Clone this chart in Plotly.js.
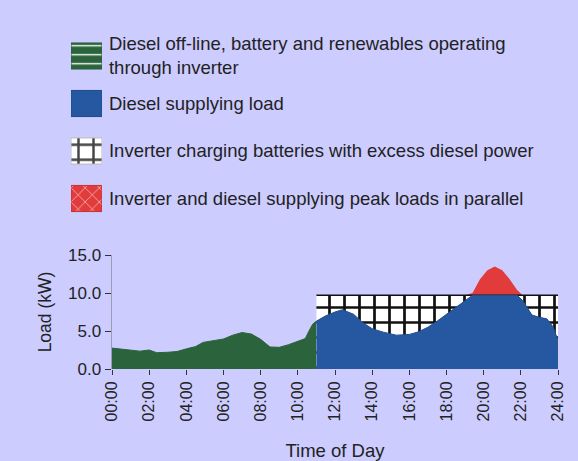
<!DOCTYPE html>
<html>
<head>
<meta charset="utf-8">
<script src="https://cdn.plot.ly/plotly-3.0.1.min.js"></script>
<style>html,body{margin:0;padding:0;background:#ccccff;}#chart{width:578px;height:461px;}</style>
</head>
<body>
<div id="chart"></div>
<script>
// ---- data ----
const hours = [0,0.5,1.0,1.5,2.0,2.4,3.0,3.5,4.0,4.5,4.9,5.5,6.0,6.5,7.0,7.5,8.0,8.5,9.0,9.5,10.0,10.4,10.6,10.8,11.0,
  11.5,12.0,12.4,13.0,13.5,14.0,14.6,15.3,16.0,16.5,17.0,17.5,18.0,18.5,19.0,19.4,19.8,20.2,20.6,21.0,21.4,21.8,22.1,22.6,23.0,23.4,23.75,24.0];
const loadKW = [2.75,2.6,2.45,2.35,2.5,2.15,2.2,2.3,2.65,2.95,3.5,3.8,3.95,4.45,4.8,4.6,3.9,2.9,2.85,3.2,3.7,4.0,5.0,5.9,6.3,
  7.0,7.5,7.8,7.2,6.1,5.3,4.85,4.45,4.55,4.9,5.5,6.3,7.2,8.1,9.0,10.0,11.8,13.0,13.5,13.0,11.8,10.4,9.0,7.1,6.8,6.6,5.5,3.7];
const dieselStartHour = 11;
const inverterRatingKW = 9.7;
const xTickVals = [0,2,4,6,8,10,12,14,16,18,20,22,24];
const xTickText = ['00:00','02:00','04:00','06:00','08:00','10:00','12:00','14:00','16:00','18:00','20:00','22:00','24:00'];
const yTickVals = [0,5,10,15];
const legendLabels = [
  'Diesel off-line, battery and renewables operating<br>through inverter',
  'Diesel supplying load',
  'Inverter charging batteries with excess diesel power',
  'Inverter and diesel supplying peak loads in parallel'
];

// ---- derived segments ----
const offH = [], offL = [], onH = [], onL = [];
hours.forEach((h, i) => {
  if (h <= dieselStartHour) { offH.push(h); offL.push(loadKW[i]); }
  if (h >= dieselStartHour) { onH.push(h); onL.push(loadKW[i]); }
});
const capH = [onH[0], onH[onH.length - 1]];
const capL = capH.map(() => inverterRatingKW);

const GREEN = '#2b643c', BLUE = '#2558a0', RED = '#e23b3b';
const FONT = 'Liberation Sans, Arial, sans-serif';

const traces = [
  { x: offH, y: offL, type: 'scatter', mode: 'lines', fill: 'tozeroy',
    fillcolor: GREEN, line: { color: GREEN, width: 1 }, hoverinfo: 'skip', showlegend: false },
  { x: capH, y: capL, type: 'scatter', mode: 'lines', fill: 'tozeroy',
    fillcolor: '#ffffff', line: { color: '#111', width: 1.5 },
    fillpattern: { shape: '+', fgcolor: '#111111', bgcolor: '#ffffff', size: 15, solidity: 0.33 },
    hoverinfo: 'skip', showlegend: false },
  { x: onH, y: onL.map(v => Math.max(v, inverterRatingKW)), type: 'scatter', mode: 'lines', fill: 'tonexty',
    fillcolor: RED, line: { color: RED, width: 0 }, hoverinfo: 'skip', showlegend: false },
  { x: onH, y: onL.map(v => Math.min(v, inverterRatingKW)), type: 'scatter', mode: 'lines', fill: 'tozeroy',
    fillcolor: BLUE, line: { color: '#22508f', width: 1 }, hoverinfo: 'skip', showlegend: false },
  // legend swatches
  { type: 'bar', orientation: 'h', x: legendLabels.map(() => 1), y: legendLabels,
    xaxis: 'x2', yaxis: 'y2', width: 0.55, hoverinfo: 'skip', showlegend: false,
    marker: {
      color: [GREEN, BLUE, '#ffffff', RED],
      line: { color: ['#2b643c', '#1e4a88', '#bbbbbb', '#c83030'], width: 1 },
      pattern: {
        fillmode: 'overlay',
        shape: ['-', '', '+', 'x'],
        fgcolor: ['#dfe8d8', BLUE, '#111111', '#ffffff'],
        fgopacity: 1,
        size: [9, 8, 15, 10],
        solidity: [0.15, 0.2, 0.3, 0.1]
      }
    } }
];

const layout = {
  width: 578, height: 461,
  margin: { l: 70, r: 20, t: 30, b: 92 },
  paper_bgcolor: '#ccccff', plot_bgcolor: '#ccccff',
  font: { family: FONT, size: 16, color: '#222' },
  showlegend: false,
  xaxis: {
    domain: [0.08607, 1], range: [0, 24], tickvals: xTickVals, ticktext: xTickText,
    tickangle: -90, ticks: 'outside', ticklen: 5, tickcolor: '#333',
    showgrid: false, zeroline: false, showline: false,
    tickfont: { size: 16, family: FONT },
    title: { text: 'Time of Day', font: { size: 18.5, family: FONT }, standoff: 24 }
  },
  yaxis: {
    domain: [0, 0.33628], range: [0, 15], tickvals: yTickVals, tickformat: '.1f',
    ticks: 'outside', ticklen: 6, tickcolor: '#333',
    showgrid: false, zeroline: false, showline: true, linecolor: '#9a9ab0', linewidth: 1.5,
    tickfont: { size: 17, family: FONT },
    title: { text: 'Load (kW)', font: { size: 17.5, family: FONT }, standoff: 12 }
  },
  xaxis2: { domain: [0.00205, 0.06557], range: [0, 1], visible: false, anchor: 'y2', fixedrange: true },
  yaxis2: {
    domain: [0.43289, 0.99336], anchor: 'x2', type: 'category',
    categoryorder: 'array', categoryarray: legendLabels, autorange: 'reversed',
    side: 'right', ticks: '', showgrid: false, zeroline: false, showline: false,
    ticklabelstandoff: 6, tickfont: { size: 18.5, family: FONT, color: '#222' }
  }
};

Plotly.newPlot('chart', traces, layout, { displayModeBar: false, staticPlot: true });
</script>
</body>
</html>
